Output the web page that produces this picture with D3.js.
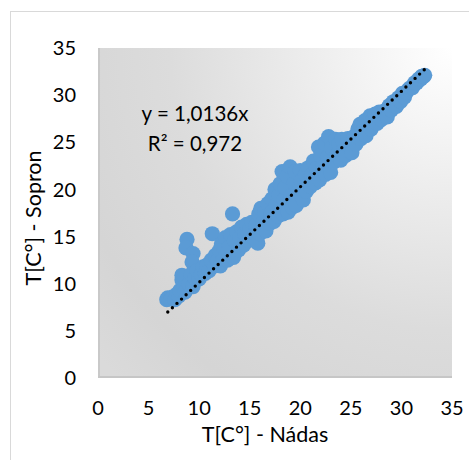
<!DOCTYPE html>
<html><head><meta charset="utf-8">
<script src="https://cdn.jsdelivr.net/npm/d3@7"></script>
<style>body{margin:0;background:#fff;}svg{display:block;font-family:Lato,"Open Sans",sans-serif;}</style>
</head><body>
<svg id="c" width="469" height="460"></svg>
<script>
// Data: T[C°] Nádas (x) vs T[C°] Sopron (y)
const nadas = [6.8,6.9,7.2,7.4,7.6,7.8,8.0,8.1,8.3,8.3,8.5,8.6,8.8,8.7,9.4,9.3,9.0,9.2,9.4,9.6,9.8,10.0,10.2,10.4,10.6,10.8,11.0,11.2,11.3,11.5,11.6,11.8,12.0,12.1,12.2,12.4,12.5,12.6,12.8,13.0,13.1,13.3,13.4,13.5,13.7,13.9,14.0,14.2,14.4,14.5,14.7,14.9,15.0,15.2,15.4,15.6,15.8,15.9,16.0,16.1,16.3,16.5,16.6,16.8,17.0,17.1,17.2,17.4,17.5,17.6,17.8,17.9,18.0,18.2,18.3,18.4,18.5,18.7,18.8,19.0,19.1,19.2,19.4,19.5,19.6,19.8,20.0,20.1,20.3,20.5,20.6,20.8,21.0,21.1,21.3,21.5,21.6,21.8,21.9,22.0,22.2,22.4,22.5,22.7,22.8,23.0,23.1,23.3,23.5,23.6,23.8,24.0,24.1,24.3,24.5,24.7,24.9,25.1,25.3,25.5,25.7,25.9,26.0,26.2,26.4,26.5,26.7,26.9,27.0,27.2,27.4,27.6,27.8,28.0,28.3,28.6,28.8,29.0,29.2,29.5,29.7,29.9,30.1,30.3,30.5,30.7,30.9,31.1,31.3,31.5,31.7,31.9,32.0,32.2,32.3];
const sopron = [8.3,8.5,8.4,8.6,8.3,8.9,8.7,9.3,10.4,10.9,9.6,9.1,14.7,13.8,13.2,12.3,10.0,11.0,9.7,10.6,11.4,10.5,11.0,11.8,11.1,12.0,11.4,12.5,15.3,11.9,13.0,12.4,13.5,11.9,14.2,12.6,13.7,14.9,12.5,13.9,15.2,17.4,12.8,14.6,15.5,13.6,14.9,16.0,14.1,15.3,16.3,14.6,15.8,16.5,14.9,16.2,14.3,17.4,15.3,18.0,16.5,17.6,15.6,18.5,16.4,17.5,19.0,16.6,20.0,18.3,17.2,19.4,20.6,21.9,17.4,18.9,20.2,21.4,17.6,22.4,19.3,18.1,20.7,21.9,18.3,19.8,22.0,20.9,18.9,21.6,19.8,22.3,20.3,21.5,23.0,20.7,22.2,24.5,21.0,23.6,22.3,24.9,21.6,23.4,25.6,21.8,24.4,22.9,25.3,23.6,24.8,23.1,25.3,24.2,23.6,25.4,24.6,23.9,25.6,24.8,26.4,26.9,25.4,26.3,27.3,25.7,27.0,27.8,26.4,27.4,28.0,27.0,28.2,27.4,28.3,27.7,28.9,28.4,29.3,28.8,29.7,29.3,30.2,29.8,30.3,30.6,30.8,30.8,31.3,31.3,31.7,31.7,32.0,32.0,32.1];
const xTicks = [0,5,10,15,20,25,30,35];
const yTicks = [0,5,10,15,20,25,30,35];
const slope = 1.0136;
const trendRange = [6.9, 32.7];
const eqLines = ["y = 1,0136x", "R² = 0,972"];
const xTitle = "T[C°] - Nádas";
const yTitle = "T[C°] - Sopron";

const svg = d3.select("#c");
const L = 98, R = 452, T = 48, B = 378;
const x = d3.scaleLinear().domain([0,35]).range([L,R]);
const y = d3.scaleLinear().domain([0,35]).range([B,T]);

// outer chart border
svg.append("rect").attr("x",10.5).attr("y",11.5).attr("width",470).attr("height",460)
  .attr("fill","#fff").attr("stroke","#d9d9d9").attr("stroke-width",1);

const defs = svg.append("defs");
const g = defs.append("radialGradient").attr("id","bg").attr("gradientUnits","userSpaceOnUse")
  .attr("cx",R).attr("cy",T).attr("r",470);
[[0,"#ffffff"],[0.3,"#ededed"],[0.6,"#dcdcdc"],[0.85,"#d5d5d5"],[1,"#dadada"]]
  .forEach(([o,c])=>g.append("stop").attr("offset",o).attr("stop-color",c));

svg.append("rect").attr("x",L).attr("y",T).attr("width",R-L).attr("height",B-T).attr("fill","url(#bg)");
// plot area left & bottom edge shading
svg.append("line").attr("x1",L+1).attr("x2",L+1).attr("y1",T).attr("y2",B).attr("stroke","#c9c9c9").attr("stroke-width",2);
svg.append("line").attr("x1",L).attr("x2",R).attr("y1",B-1).attr("y2",B-1).attr("stroke","#c6c6c6").attr("stroke-width",2);

// points
const pts = nadas.map((v,i)=>[v,sopron[i]]);
svg.append("g").selectAll("circle").data(pts).join("circle")
  .attr("cx",d=>x(d[0])).attr("cy",d=>y(d[1])).attr("r",7.6).attr("fill","#5b9bd5");

// trendline
svg.append("line")
  .attr("x1",x(trendRange[0])).attr("y1",y(slope*trendRange[0]))
  .attr("x2",x(trendRange[1])).attr("y2",y(slope*trendRange[1]))
  .attr("stroke","#000").attr("stroke-width",3.4).attr("stroke-linecap","round")
  .attr("stroke-dasharray","0 6.3");

// axes (labels only)
const fs = 20;
svg.append("g").selectAll("text").data(xTicks).join("text")
  .attr("x",d=>x(d)).attr("y",415).attr("text-anchor","middle").attr("font-size",fs).attr("fill","#000").text(d=>d);
svg.append("g").selectAll("text").data(yTicks).join("text")
  .attr("x",76).attr("y",d=>y(d)).attr("dy","0.36em").attr("text-anchor","end").attr("font-size",fs).attr("fill","#000").text(d=>d);

svg.append("text").attr("x",265).attr("y",442).attr("text-anchor","middle").attr("font-size",21.5).attr("fill","#000").text(xTitle);
svg.append("text").attr("transform","translate(41,218) rotate(-90)").attr("text-anchor","middle").attr("font-size",21.5).attr("fill","#000").text(yTitle);

svg.append("g").selectAll("text").data(eqLines).join("text")
  .attr("x",195).attr("y",(d,i)=>121+i*30).attr("text-anchor","middle").attr("font-size",20.5).attr("fill","#000").text(d=>d);
</script>
</body></html>
